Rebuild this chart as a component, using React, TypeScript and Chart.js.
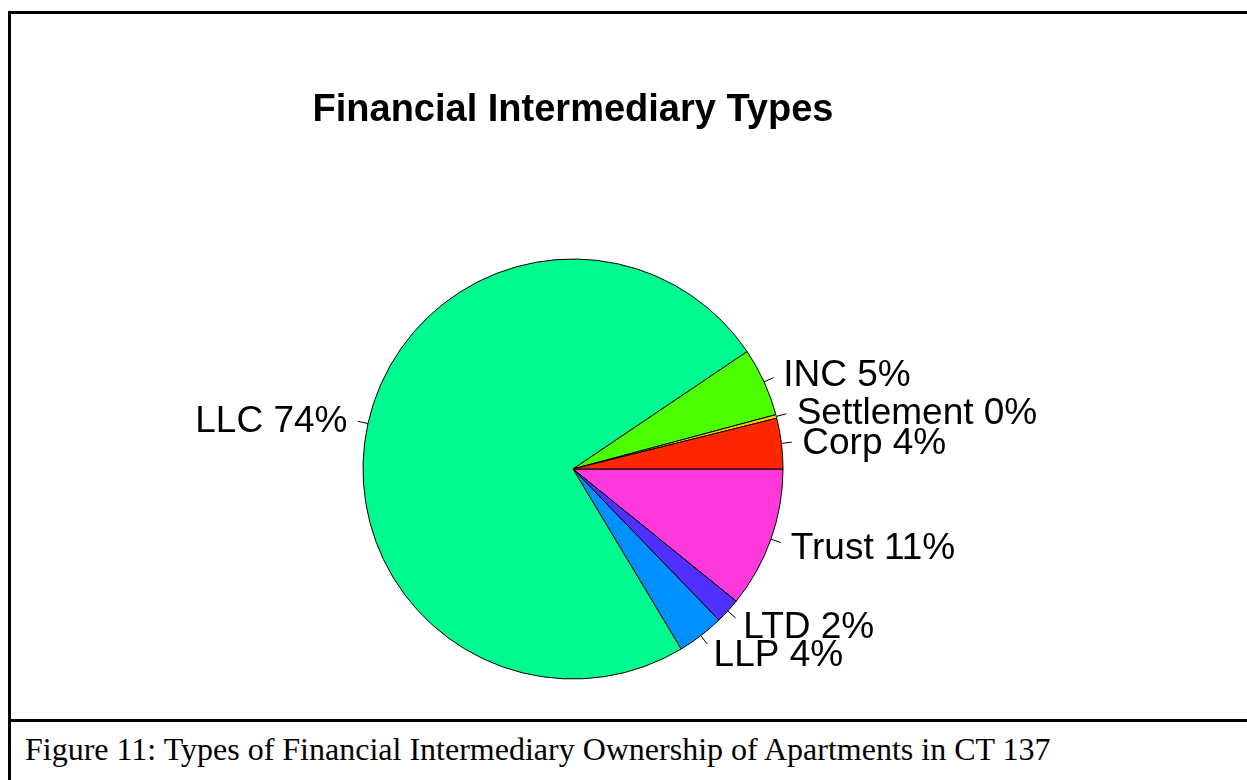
import React, { useEffect, useRef } from "react";
import { Chart, registerables } from "chart.js";

Chart.register(...registerables);

// Slices in counter-clockwise order starting at 3 o'clock (as in the reference)
const categories = ["Corp", "Settlement", "INC", "LLC", "LLP", "LTD", "Trust"];
const counts = [14, 1, 19, 267, 13, 7, 39];
const sliceColors = ["#FF2600", "#FFD000", "#4CFF00", "#00FA90", "#0090FF", "#5030FF", "#FF38DC"];
const titleText = "Financial Intermediary Types";
const captionText = "Figure 11: Types of Financial Intermediary Ownership of Apartments in CT 137";

const LABEL_FONT_SIZE = 37;

const pieLabels = {
  id: "pieLabels",
  afterDatasetsDraw(chart: any) {
    const ctx = chart.ctx;
    const meta = chart.getDatasetMeta(0);
    const labels = chart.data.labels as string[];
    const data = chart.data.datasets[0].data as number[];
    const total = data.reduce((a: number, b: number) => a + b, 0);
    ctx.save();
    ctx.font = `${LABEL_FONT_SIZE}px 'Liberation Sans', Arial, sans-serif`;
    ctx.fillStyle = "#000";
    ctx.strokeStyle = "#000";
    ctx.lineWidth = 1;
    meta.data.forEach((arc: any, i: number) => {
      const { x, y, startAngle, endAngle, outerRadius } = arc.getProps(
        ["x", "y", "startAngle", "endAngle", "outerRadius"],
        true
      );
      const mid = (startAngle + endAngle) / 2;
      const c = Math.cos(mid);
      const s = Math.sin(mid);
      ctx.beginPath();
      ctx.moveTo(x + c * outerRadius, y + s * outerRadius);
      ctx.lineTo(x + c * outerRadius * 1.05, y + s * outerRadius * 1.05);
      ctx.stroke();
      const text = `${labels[i]} ${Math.round((data[i] / total) * 100)}%`;
      ctx.textAlign = c >= 0 ? "left" : "right";
      ctx.textBaseline = "alphabetic";
      ctx.fillText(
        text,
        x + c * outerRadius * 1.1,
        y + s * outerRadius * 1.1 + LABEL_FONT_SIZE * 0.358
      );
    });
    ctx.restore();
  },
};

export default function App() {
  const canvasRef = useRef<HTMLCanvasElement | null>(null);

  useEffect(() => {
    if (!canvasRef.current) return;
    // Chart.js draws clockwise, so reverse the counter-clockwise order
    const labels = [...categories].reverse();
    const values = [...counts].reverse();
    const colors = [...sliceColors].reverse();
    const chart = new Chart(canvasRef.current, {
      type: "pie",
      data: {
        labels,
        datasets: [
          {
            data: values,
            backgroundColor: colors,
            borderColor: "#000",
            borderWidth: 1,
            radius: 210,
            hoverOffset: 0,
          } as any,
        ],
      },
      options: {
        animation: false,
        responsive: false,
        devicePixelRatio: 1,
        events: [],
        rotation: 90,
        layout: { padding: { left: 0, right: 112, top: 0, bottom: 0 } },
        plugins: {
          legend: { display: false },
          tooltip: { enabled: false },
          title: {
            display: true,
            text: titleText,
            color: "#000",
            font: { family: "'Liberation Sans', Arial, sans-serif", size: 38, weight: "bold", lineHeight: 1.2 },
            padding: { top: 74, bottom: 85.4 },
          },
        },
      },
      plugins: [pieLabels],
    });
    return () => chart.destroy();
  }, []);

  return (
    <div
      style={{
        position: "absolute",
        left: 0,
        top: 0,
        width: 1247,
        height: 780,
        overflow: "hidden",
        background: "#fff",
      }}
    >
      <div style={{ position: "absolute", left: 8, top: 11, width: 3, height: 769, background: "#000" }} />
      <div style={{ position: "absolute", left: 8, top: 11, width: 1239, height: 3, background: "#000" }} />
      <div style={{ position: "absolute", left: 8, top: 719, width: 1239, height: 3, background: "#000" }} />
      <canvas
        ref={canvasRef}
        width={1236}
        height={705}
        style={{ position: "absolute", left: 11, top: 14, width: 1236, height: 705 }}
      />
      <div
        style={{
          position: "absolute",
          left: 25,
          top: 733,
          whiteSpace: "nowrap",
          fontFamily: "'Liberation Serif', 'Times New Roman', serif",
          fontSize: 32,
          lineHeight: "32px",
          color: "#000",
        }}
      >
        {captionText}
      </div>
    </div>
  );
}
